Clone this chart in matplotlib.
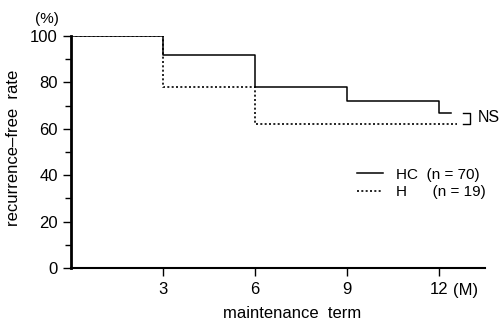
import matplotlib
matplotlib.use('Agg')
import matplotlib.pyplot as plt
import numpy as np

plt.rcParams['font.family'] = ['Liberation Sans', 'DejaVu Sans']

# recurrence-free rate (%) by maintenance term (months)
hc_t = [0, 3, 6, 9, 12, 12.4]
hc_rate = [100, 92, 78, 72, 67, 67]
h_t = [0, 3, 6, 12.6]
h_rate = [100, 78, 62, 62]

x_ticks = [3, 6, 9, 12]
y_ticks = [0, 20, 40, 60, 80, 100]

fig = plt.figure(figsize=(4.99, 3.23), dpi=100)
ax = fig.add_axes([0.1423, 0.1703, 0.8297, 0.7182])

ax.step(hc_t, hc_rate, where='post', color='black', lw=1.1,
        label='HC  (n = 70)')
ax.step(h_t, h_rate, where='post', color='black', lw=1.2,
        linestyle=(0, (1.2, 1.4)), label='H      (n = 19)')

ax.set_xlim(0, 13.5)
ax.set_ylim(0, 100)
ax.set_xticks(x_ticks)
ax.set_yticks(y_ticks)
ax.set_yticks([10, 30, 50, 70, 90], minor=True)
ax.tick_params(axis='both', which='major', labelsize=12, length=6, width=1, direction='out')
ax.tick_params(axis='y', which='minor', length=4, width=1, direction='out')
ax.tick_params(axis='x', pad=4)

ax.spines['top'].set_visible(False)
ax.spines['right'].set_visible(False)
ax.spines['left'].set_linewidth(2)
ax.spines['bottom'].set_linewidth(1.5)

ax.set_ylabel('recurrence\u2013free  rate', fontsize=12)
ax.set_xlabel('maintenance  term', fontsize=12)
ax.yaxis.set_label_coords(-0.121, 0.517)
ax.xaxis.set_label_coords(0.534, -0.164)

ax.text(-0.058, 1.073, '(%)', transform=ax.transAxes, fontsize=11, ha='center', va='center')
ax.text(12.45, -9.5, '(M)', fontsize=12, ha='left', va='center', clip_on=False)

# NS bracket
bx0, bx1 = 12.77, 13.0
ax.plot([bx0, bx1, bx1, bx0], [67, 67, 62, 62], color='black', lw=1, clip_on=False)
ax.text(13.25, 64.7, 'NS', fontsize=11.5, ha='left', va='center', clip_on=False)

ax.legend(loc='center left', bbox_to_anchor=(0.691, 0.364), frameon=False,
          fontsize=11, handlelength=1.7, handletextpad=0.85, labelspacing=0.25,
          borderpad=0, borderaxespad=0)

fig.savefig('out.png', dpi=100)
